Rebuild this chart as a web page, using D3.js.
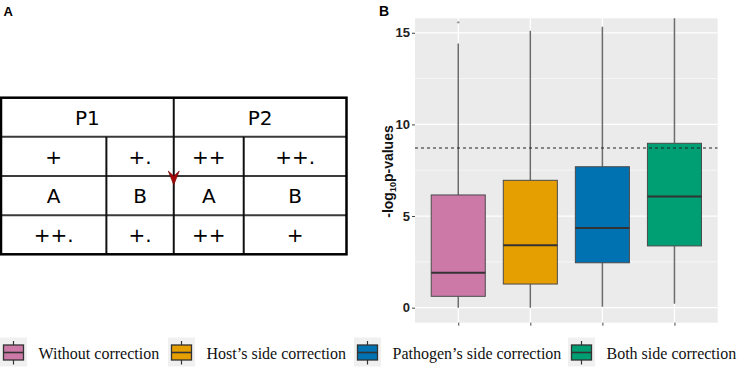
<!DOCTYPE html>
<html><head><meta charset="utf-8">
<script src="https://cdn.jsdelivr.net/npm/d3@7"></script>
<style>body{margin:0;background:#fff}svg{display:block}</style>
</head><body>
<svg id="c" width="737" height="370"></svg>
<script>
// ---- Data ----
const categories = ["Without correction","Host\u2019s side correction","Pathogen\u2019s side correction","Both side correction"];
const colors = ["#CC79A7","#E69F00","#0072B2","#009E73"];
const q1 = [0.62, 1.29, 2.45, 3.37];
const medians = [1.91, 3.40, 4.35, 6.06];
const q3 = [6.15, 6.95, 7.69, 8.97];
const whiskerLow = [0.0, 0.0, 0.05, 0.22];
const whiskerHigh = [14.42, 15.11, 15.33, 16.2];
const outliers = [[0, 15.57]];
const threshold = 8.71;
const yTicks = [0, 5, 10, 15];
const yMinor = [2.5, 7.5, 12.5];
// table panel A
const tableHeader = ["P1", "P2"];
const tableRows = [["+", "+.", "++", "++."], ["A", "B", "A", "B"], ["++.", "+.", "++", "+"]];

const svg = d3.select("#c");

// ---- Panel A: table ----
svg.append("text").attr("x", 3.5).attr("y", 15.5).text("A")
  .style("font-family", "Liberation Sans").style("font-weight", "bold").style("font-size", "13px");
const tx = d3.scaleLinear().domain([0, 4]).range([1, 346.5]);
const colEdges = [0, 1.22, 2, 2.81, 4];
const colX = colEdges.map(tx);
const ty = d3.scaleLinear().domain([0, 4]).range([97.7, 254.3]);
const tg = svg.append("g");
[1, 2, 3].forEach(r => tg.append("line").attr("x1", colX[0]).attr("x2", colX[4])
  .attr("y1", ty(r)).attr("y2", ty(r)).attr("stroke", "#3a3a3a").attr("stroke-width", 2));
tg.append("line").attr("x1", colX[2]).attr("x2", colX[2]).attr("y1", ty(0)).attr("y2", ty(4))
  .attr("stroke", "#111").attr("stroke-width", 2);
[1, 3].forEach(c => tg.append("line").attr("x1", colX[c]).attr("x2", colX[c])
  .attr("y1", ty(1)).attr("y2", ty(4)).attr("stroke", "#111").attr("stroke-width", 2));
tg.append("rect").attr("x", colX[0]).attr("y", ty(0)).attr("width", colX[4] - colX[0])
  .attr("height", ty(4) - ty(0)).attr("fill", "none").attr("stroke", "#000").attr("stroke-width", 2.5);
const tstyle = s => s.style("font-family", "DejaVu Sans").style("font-size", "20px").attr("text-anchor", "middle");
tableHeader.forEach((h, i) => {
  tg.append("text").attr("x", (colX[i * 2] + colX[i * 2 + 2]) / 2).attr("y", (ty(0) + ty(1)) / 2 + 7.5)
    .text(h).call(tstyle);
});
tableRows.forEach((row, r) => row.forEach((t, c) => {
  tg.append("text").attr("x", (colX[c] + colX[c + 1]) / 2).attr("y", (ty(r + 1) + ty(r + 2)) / 2 + 7.5)
    .text(t).call(tstyle);
}));
const ax = colX[2], ay = 185;
tg.append("path").attr("d", `M${ax},${ay} L${ax - 5.5},${ay - 14} L${ax},${ay - 9} L${ax + 5.5},${ay - 14} Z`)
  .attr("fill", "#a50a0a").attr("stroke", "#6a0000").attr("stroke-width", 0.6);

// ---- Panel B: boxplot ----
const pL = 415, pR = 717.7, pT = 18.3, pB = 322.7;
const x = d3.scalePoint().domain(categories).range([pL, pR]).padding(0.6);
const y = d3.scaleLinear().domain([-0.82, 15.79]).range([pB, pT]);
const step = x.step(), bw = step * 0.75;

svg.append("text").attr("x", 379).attr("y", 16).text("B")
  .style("font-family", "Liberation Sans").style("font-weight", "bold").style("font-size", "14px");
svg.append("rect").attr("x", pL).attr("y", pT).attr("width", pR - pL).attr("height", pB - pT).attr("fill", "#EBEBEB");
const defs = svg.append("defs");
defs.append("clipPath").attr("id", "pc").append("rect").attr("x", pL).attr("y", pT).attr("width", pR - pL).attr("height", pB - pT);
const pg = svg.append("g").attr("clip-path", "url(#pc)");
yMinor.forEach(v => pg.append("line").attr("x1", pL).attr("x2", pR).attr("y1", y(v)).attr("y2", y(v))
  .attr("stroke", "#fff").attr("stroke-width", 0.6));
yTicks.forEach(v => pg.append("line").attr("x1", pL).attr("x2", pR).attr("y1", y(v)).attr("y2", y(v))
  .attr("stroke", "#fff").attr("stroke-width", 1.3));
categories.forEach(c => pg.append("line").attr("x1", x(c)).attr("x2", x(c)).attr("y1", pT).attr("y2", pB)
  .attr("stroke", "#fff").attr("stroke-width", 1.3));

categories.forEach((c, i) => {
  const cx = x(c);
  pg.append("line").attr("x1", cx).attr("x2", cx).attr("y1", y(q3[i])).attr("y2", y(whiskerHigh[i]))
    .attr("stroke", "#6b6b6b").attr("stroke-width", 1.5);
  pg.append("line").attr("x1", cx).attr("x2", cx).attr("y1", y(q1[i])).attr("y2", y(whiskerLow[i]))
    .attr("stroke", "#6b6b6b").attr("stroke-width", 1.5);
  pg.append("rect").attr("x", cx - bw / 2).attr("y", y(q3[i])).attr("width", bw).attr("height", y(q1[i]) - y(q3[i]))
    .attr("fill", colors[i]).attr("stroke", "#4a4a4a").attr("stroke-width", 1);
  pg.append("line").attr("x1", cx - bw / 2).attr("x2", cx + bw / 2).attr("y1", y(medians[i])).attr("y2", y(medians[i]))
    .attr("stroke", "#333").attr("stroke-width", 2);
});
outliers.forEach(([i, v]) => pg.append("circle").attr("cx", x(categories[i])).attr("cy", y(v)).attr("r", 1.2).attr("fill", "#999"));
pg.append("line").attr("x1", pL).attr("x2", pR).attr("y1", y(threshold)).attr("y2", y(threshold))
  .attr("stroke", "#222").attr("stroke-width", 1.1).attr("stroke-dasharray", "3,3");

const yAxis = d3.axisLeft(y).tickValues(yTicks).tickSize(3).tickPadding(2);
const ya = svg.append("g").attr("transform", `translate(${pL},0)`).call(yAxis);
ya.select(".domain").remove();
ya.selectAll("line").attr("stroke", "#444");
ya.selectAll("text").style("font-family", "Liberation Sans").style("font-weight", "bold").style("font-size", "13px").attr("fill", "#222");
const xAxis = d3.axisBottom(x).tickSize(3).tickFormat("");
const xa = svg.append("g").attr("transform", `translate(0,${pB})`).call(xAxis);
xa.select(".domain").remove();
xa.selectAll("line").attr("stroke", "#444");

const yl = svg.append("text").attr("transform", `translate(392.5,${(pT + pB) / 2 + 1}) rotate(-90)`)
  .attr("text-anchor", "middle").style("font-family", "Liberation Sans").style("font-weight", "bold").style("font-size", "14px").attr("fill", "#111");
yl.append("tspan").text("-log");
yl.append("tspan").text("10").attr("dy", 3).style("font-size", "9px");
yl.append("tspan").text("p-values").attr("dy", -3);

// legend
const legX = [0, 168, 354, 568];
const lg = svg.append("g");
categories.forEach((c, i) => {
  const g = lg.append("g").attr("transform", `translate(${legX[i]},337.5)`);
  g.append("rect").attr("x", 0).attr("y", 0).attr("width", 27).attr("height", 29).attr("fill", "#F0F0F0");
  g.append("line").attr("x1", 13.5).attr("x2", 13.5).attr("y1", 3.5).attr("y2", 27).attr("stroke", "#333").attr("stroke-width", 1.2);
  g.append("rect").attr("x", 3.5).attr("y", 7.5).attr("width", 20).attr("height", 15).attr("fill", colors[i]).attr("stroke", "#333").attr("stroke-width", 1.3);
  g.append("line").attr("x1", 3.5).attr("x2", 23.5).attr("y1", 15).attr("y2", 15).attr("stroke", "#333").attr("stroke-width", 1.6);
  g.append("text").attr("x", 38.5).attr("y", 21.5).text(c)
    .style("font-family", "Liberation Serif").style("font-size", "16px").attr("fill", "#111");
});
</script>
</body></html>
